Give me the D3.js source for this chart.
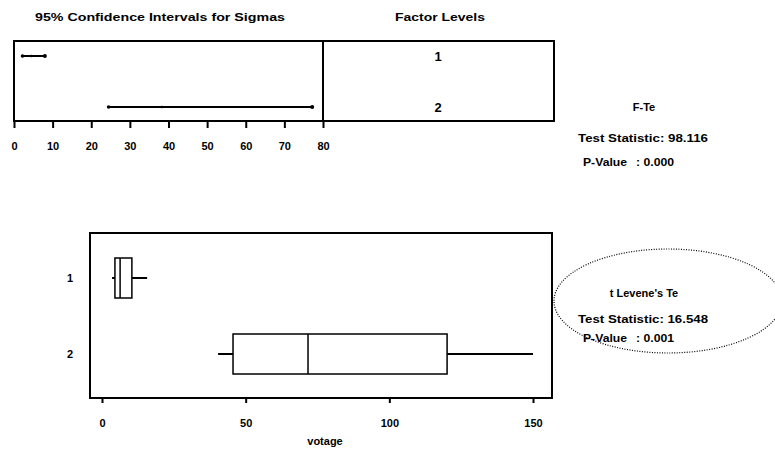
<!DOCTYPE html>
<html>
<head>
<meta charset="utf-8">
<script src="https://cdn.jsdelivr.net/npm/d3@7"></script>
<style>
  body { margin: 0; background: #fff; }
  svg { display: block; font-family: "Liberation Sans", Arial, sans-serif; font-weight: bold; }
  .axis path { display: none; }
  .axis line { stroke: #000; stroke-width: 2; }
  .axis text { font-size: 11px; font-weight: bold; fill: #000; }
</style>
</head>
<body>
<div id="chart"></div>
<script>
// 95% confidence intervals for sigmas, per factor level
let sigmaLevels = ['1', '2']
let sigmaLow = [2.2, 24.5]
let sigmaEst = [4.5, 38.3]
let sigmaHigh = [8.0, 77.2]
let sigmaTicks = [0, 10, 20, 30, 40, 50, 60, 70, 80]

// boxplot of votage per factor level
let boxLevels = ['1', '2']
let whiskerLow = [3.5, 40.4]
let q1 = [4.5, 45.6]
let median = [6.3, 71.7]
let q3 = [10.4, 120.1]
let whiskerHigh = [15.7, 150]
let voltTicks = [0, 50, 100, 150]

// test results
let fTest = ['F-Te', 'Test Statistic: 98.116', 'P-Value', ': 0.000']
let leveneTest = ['t Levene\'s Te', 'Test Statistic: 16.548', 'P-Value', ': 0.001']

let width = 775,
  height = 450,
  sigPanel = { left: 14, mid: 323, right: 554, y0: 41, y1: 121 }, // sigma panel
  boxPanel = { left: 90, right: 552, y0: 233, y1: 398 }, // boxplot panel
  boxHeight = 40

let svg = d3.select('#chart').append('svg')
  .attr('width', width)
  .attr('height', height)

// scales
let x = d3.scaleLinear()
  .domain([0, 80])
  .range([sigPanel.left, sigPanel.mid])

let y = d3.scalePoint()
  .domain(sigmaLevels)
  .range([56, 107])

let x2 = d3.scaleLinear()
  .domain([0, 150])
  .range([102, 533])

let y2 = d3.scalePoint()
  .domain(boxLevels)
  .range([278, 354])

// ---- sigma panel ----
svg.append('text')
  .attr('x', 160).attr('y', 21)
  .attr('text-anchor', 'middle')
  .attr('font-size', '11px')
  .attr('textLength', 250).attr('lengthAdjust', 'spacingAndGlyphs')
  .text('95% Confidence Intervals for Sigmas')

svg.append('text')
  .attr('x', 440).attr('y', 21)
  .attr('text-anchor', 'middle')
  .attr('font-size', '11px')
  .attr('textLength', 90).attr('lengthAdjust', 'spacingAndGlyphs')
  .text('Factor Levels')

svg.append('rect')
  .attr('x', sigPanel.left).attr('y', sigPanel.y0)
  .attr('width', sigPanel.right - sigPanel.left).attr('height', sigPanel.y1 - sigPanel.y0)
  .attr('fill', 'none').attr('stroke', '#000').attr('stroke-width', 2)

svg.append('line')
  .attr('x1', sigPanel.mid).attr('x2', sigPanel.mid)
  .attr('y1', sigPanel.y0).attr('y2', sigPanel.y1)
  .attr('stroke', '#000').attr('stroke-width', 2)

svg.append('g')
  .attr('class', 'axis')
  .attr('transform', 'translate(0,' + sigPanel.y1 + ')')
  .call(d3.axisBottom(x).tickValues(sigmaTicks).tickSize(7).tickPadding(14))

let ci = svg.append('g').selectAll('g')
  .data(sigmaLevels)
  .enter().append('g')

ci.append('line')
  .attr('x1', (d, i) => x(sigmaLow[i]))
  .attr('x2', (d, i) => x(sigmaHigh[i]))
  .attr('y1', d => y(d)).attr('y2', d => y(d))
  .attr('stroke', '#000').attr('stroke-width', 2)

ci.selectAll('circle')
  .data((d, i) => [[sigmaLow[i], d, 1.8], [sigmaEst[i], d, 1.3], [sigmaHigh[i], d, 2]])
  .enter().append('circle')
  .attr('cx', d => x(d[0]))
  .attr('cy', d => y(d[1]))
  .attr('r', d => d[2])
  .attr('fill', '#000')

svg.append('g').selectAll('text')
  .data(sigmaLevels)
  .enter().append('text')
  .attr('x', 438)
  .attr('y', d => y(d) + 5)
  .attr('text-anchor', 'middle')
  .attr('font-size', '13px')
  .text(d => d)

// ---- test statistic blocks ----
function statBlock(lines, cx, ys) {
  let g = svg.append('g').attr('font-size', '11px')
  g.append('text')
    .attr('x', cx).attr('y', ys[0])
    .attr('text-anchor', 'middle')
    .text(lines[0])
  g.append('text')
    .attr('x', cx - 66).attr('y', ys[1])
    .attr('textLength', 130).attr('lengthAdjust', 'spacingAndGlyphs')
    .text(lines[1])
  g.append('text')
    .attr('x', cx - 61).attr('y', ys[2])
    .attr('textLength', 44).attr('lengthAdjust', 'spacingAndGlyphs')
    .text(lines[2])
  g.append('text')
    .attr('x', cx - 8).attr('y', ys[2])
    .attr('textLength', 38).attr('lengthAdjust', 'spacingAndGlyphs')
    .text(lines[3])
}

statBlock(fTest, 644, [111, 142, 166])

svg.append('ellipse')
  .attr('cx', 668).attr('cy', 301)
  .attr('rx', 114).attr('ry', 52)
  .attr('fill', 'none').attr('stroke', '#000')
  .attr('stroke-width', 1.2).attr('stroke-dasharray', '1,1.5')

statBlock(leveneTest, 644, [297, 323, 342])

// ---- boxplot panel ----
svg.append('rect')
  .attr('x', boxPanel.left).attr('y', boxPanel.y0)
  .attr('width', boxPanel.right - boxPanel.left).attr('height', boxPanel.y1 - boxPanel.y0)
  .attr('fill', 'none').attr('stroke', '#000').attr('stroke-width', 2)

svg.append('g')
  .attr('class', 'axis')
  .attr('transform', 'translate(0,' + boxPanel.y1 + ')')
  .call(d3.axisBottom(x2).tickValues(voltTicks).tickSize(5).tickPadding(16))

svg.append('g').selectAll('text')
  .data(boxLevels)
  .enter().append('text')
  .attr('x', 70)
  .attr('y', d => y2(d) + 4)
  .attr('text-anchor', 'middle')
  .attr('font-size', '11px')
  .text(d => d)

svg.append('text')
  .attr('x', 325).attr('y', 445)
  .attr('text-anchor', 'middle')
  .attr('font-size', '11px')
  .text('votage')

let boxes = svg.append('g').selectAll('g')
  .data(boxLevels)
  .enter().append('g')
  .attr('stroke', '#000').attr('stroke-width', 1.5).attr('fill', 'none')

boxes.append('line')
  .attr('x1', (d, i) => x2(whiskerLow[i]))
  .attr('x2', (d, i) => x2(q1[i]))
  .attr('y1', d => y2(d)).attr('y2', d => y2(d))
  .attr('stroke-width', 2)

boxes.append('line')
  .attr('x1', (d, i) => x2(q3[i]))
  .attr('x2', (d, i) => x2(whiskerHigh[i]))
  .attr('y1', d => y2(d)).attr('y2', d => y2(d))
  .attr('stroke-width', 2)

boxes.append('rect')
  .attr('x', (d, i) => x2(q1[i]))
  .attr('width', (d, i) => x2(q3[i]) - x2(q1[i]))
  .attr('y', d => y2(d) - boxHeight / 2)
  .attr('height', boxHeight)
  .attr('fill', '#fff')

boxes.append('line')
  .attr('x1', (d, i) => x2(median[i]))
  .attr('x2', (d, i) => x2(median[i]))
  .attr('y1', d => y2(d) - boxHeight / 2)
  .attr('y2', d => y2(d) + boxHeight / 2)
</script>
</body>
</html>
